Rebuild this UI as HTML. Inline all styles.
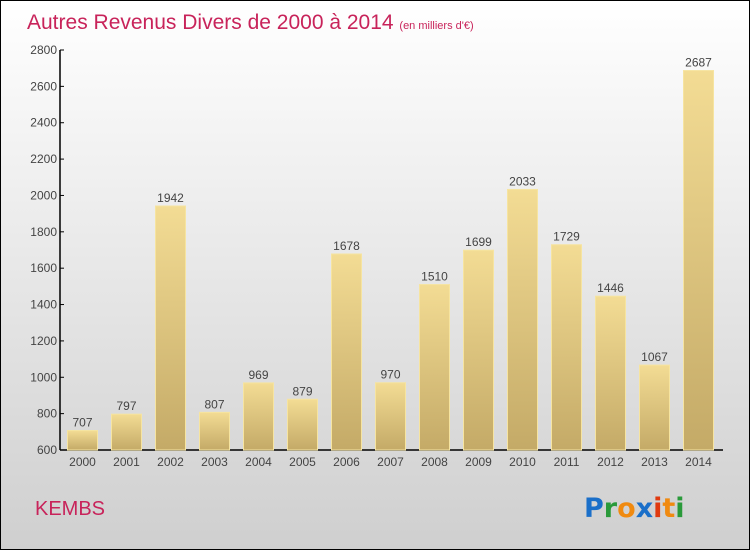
<!DOCTYPE html>
<html><head><meta charset="utf-8"><style>
body{margin:0}
#wrap{position:relative;width:748px;height:548px;border:1px solid #000;background:linear-gradient(#ffffff,#cfcfcf);font-family:"Liberation Sans",sans-serif;overflow:hidden}
</style></head><body>
<div id="wrap">
<svg width="748" height="548" id="svg">
<defs><linearGradient id="bg" x1="0" y1="0" x2="0" y2="1"><stop offset="0" stop-color="#f3dc94"/><stop offset="1" stop-color="#c4aa67"/></linearGradient></defs>
<text x="26" y="28" font-size="21" fill="#c8235a">Autres Revenus Divers de 2000 à 2014 <tspan font-size="11">(en milliers d'€)</tspan></text>
<text x="34" y="514" font-size="20" fill="#c8235a">KEMBS</text>
<g font-size="27" font-weight="bold" font-family="'DejaVu Sans',sans-serif">
<text x="583" y="516"><tspan fill="#1a6fc9">P</tspan><tspan fill="#2a9a3a">r</tspan><tspan fill="#f08a10">o</tspan><tspan fill="#1a6fc9">x</tspan><tspan fill="#e03a10">i</tspan><tspan fill="#f08a10">t</tspan><tspan fill="#2a9a3a">i</tspan></text></g>
<g id="axes"></g><g id="bars"></g>
</svg></div>
<script>
const years=["2000","2001","2002","2003","2004","2005","2006","2007","2008","2009","2010","2011","2012","2013","2014"];
const values=[707,797,1942,807,969,879,1678,970,1510,1699,2033,1729,1446,1067,2687];
const ticks=[600,800,1000,1200,1400,1600,1800,2000,2200,2400,2600,2800];
const NS="http://www.w3.org/2000/svg";
const y=v=>449-(v-600)*400/2200;
const x=i=>81.5+44*i;
function mk(t,a,p){const e=document.createElementNS(NS,t);for(const k in a)e.setAttribute(k,a[k]);p.appendChild(e);return e;}
const ax=document.getElementById('axes'),bg=document.getElementById('bars');
const yl=mk('line',{x1:59,y1:49,x2:59,y2:449,stroke:'#000','stroke-width':1.5},ax);


const xl=mk('line',{x1:59,y1:449,x2:722,y2:449,stroke:'#000','stroke-width':1.5},ax);


ticks.forEach(t=>{
 mk('line',{x1:59,y1:y(t),x2:63,y2:y(t),stroke:'#000'},ax);
 const tx=mk('text',{x:56,y:y(t)+4,'text-anchor':'end','font-size':12,fill:'#444'},ax);tx.textContent=t;
 
 
});
years.forEach((yr,i)=>{
 const v=values[i];
 const r=mk('rect',{x:x(i)-15,y:y(v),width:30,height:449-y(v),fill:'url(#bg)',stroke:'#f6e4a0','stroke-width':1},bg);
 
 
 const lb=mk('text',{x:x(i),y:y(v)-4,'text-anchor':'middle','font-size':12,fill:'#444'},bg);lb.textContent=v;
 
 
 const xt=mk('text',{x:x(i),y:465,'text-anchor':'middle','font-size':12,fill:'#444'},bg);xt.textContent=yr;
 
 
});
</script></body></html>
